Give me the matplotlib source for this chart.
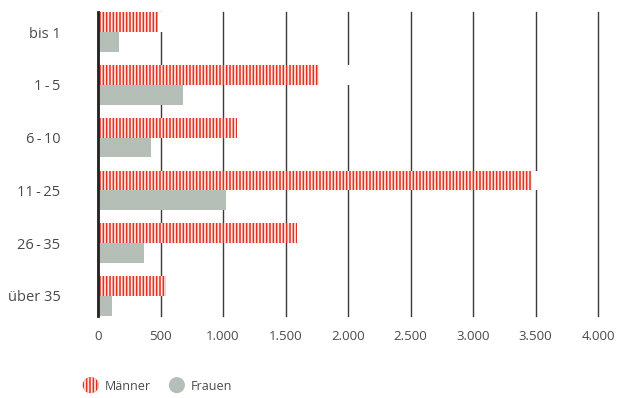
import matplotlib.pyplot as plt
import matplotlib.patches as mpatches
from matplotlib.legend_handler import HandlerPatch
from matplotlib.ticker import FuncFormatter
import numpy as np

# Daten
kategorien = ["bis 1", "1\u2009-\u20095", "6\u2009-\u200910", "11\u2009-\u200925", "26\u2009-\u200935", "über 35"]
maenner = [480, 1768, 1112, 3472, 1592, 544]
frauen = [168, 680, 424, 1024, 368, 112]

ROT = "#e3301f"
GRAU = "#b5beb7"
TEXT = "#4a4a4a"

plt.rcParams["font.family"] = ["Open Sans", "DejaVu Sans"]
plt.rcParams["hatch.linewidth"] = 1.3

fig = plt.figure(figsize=(6.19, 3.98), dpi=100)
ax = fig.add_axes([98 / 619, 1 - 316 / 398, 500 / 619, 304 / 398])

y = np.arange(len(kategorien))
h = 0.375

# weiße Flächen hinter den Männer-Balken (unterbrechen die Gitterlinien)
ax.barh(y - h / 2, np.array(maenner) + 250, height=h, color="white", zorder=1)
ax.barh(y - h / 2, maenner, height=h, color=ROT, edgecolor="#fbe3e0",
        linewidth=0, hatch="|||||", zorder=2, label="Männer")
ax.barh(y + h / 2, frauen, height=h, color=GRAU, linewidth=0, zorder=2,
        label="Frauen")

ax.set_xlim(0, 4000)
ax.set_ylim(len(kategorien) - 1 + 0.38, -0.38)
ax.set_xticks(np.arange(0, 4001, 500))
ax.xaxis.set_major_formatter(FuncFormatter(lambda v, p: f"{int(v):,}".replace(",", ".")))
ax.set_yticks(y)
ax.set_yticklabels(kategorien)

ax.set_axisbelow(True)
ax.grid(axis="x", color="#3a3a3a", linewidth=1.0)
ax.grid(axis="y", visible=False)
for gl in ax.get_xgridlines():
    gl.set_clip_on(False)
for s in ["top", "right", "bottom"]:
    ax.spines[s].set_visible(False)
ax.spines["left"].set_color("#222222")
ax.spines["left"].set_linewidth(2)
ax.spines["left"].set_zorder(3)

ax.tick_params(axis="x", length=0, pad=10, labelsize=9.5, labelcolor=TEXT)
ax.tick_params(axis="y", length=0, pad=27, labelsize=10.5, labelcolor=TEXT)


def kreis(legend, orig_handle, xdescent, ydescent, width, height, fontsize):
    r = height * 0.92
    return mpatches.Circle((width / 2 - xdescent, height / 2 - ydescent), r)


handles = [
    mpatches.Patch(facecolor=ROT, edgecolor="#fbe3e0", linewidth=0, hatch="|||||", label="Männer"),
    mpatches.Patch(facecolor=GRAU, linewidth=0, label="Frauen"),
]
leg = fig.legend(handles=handles, loc="center left", bbox_to_anchor=(72 / 619, 1 - 386 / 398),
                 ncol=2, frameon=False, fontsize=9, handlelength=1.2, handletextpad=0.5,
                 columnspacing=1.5,
                 handler_map={mpatches.Patch: HandlerPatch(patch_func=kreis)})
for t in leg.get_texts():
    t.set_color(TEXT)

fig.savefig("out.png", dpi=100)
